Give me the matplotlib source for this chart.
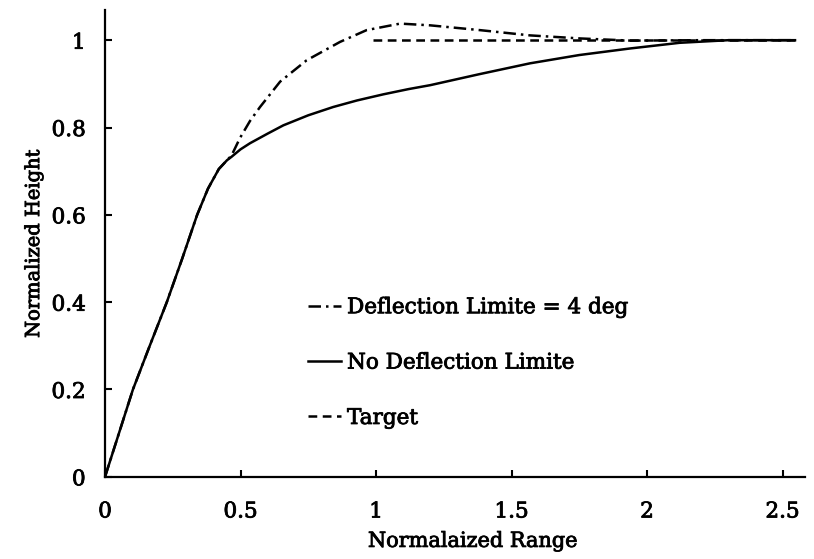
import matplotlib
matplotlib.use("Agg")
import matplotlib.pyplot as plt
import matplotlib.patheffects as pe

# Data
x_nolimit = [0.0, 0.05, 0.103, 0.165, 0.228, 0.285, 0.34, 0.38, 0.42, 0.45, 0.467, 0.5, 0.535, 0.6, 0.658, 0.75, 0.842, 0.93,
             1.027, 1.12, 1.2, 1.38, 1.568, 1.75, 1.937, 2.12, 2.3, 2.546]
y_nolimit = [0.0, 0.097, 0.2, 0.3, 0.4, 0.5, 0.6, 0.66, 0.705, 0.725, 0.733, 0.75, 0.764, 0.786, 0.805, 0.828, 0.847, 0.862,
             0.876, 0.888, 0.897, 0.922, 0.947, 0.966, 0.981, 0.994, 1.0, 1.0]

x_limit = [0.0, 0.05, 0.103, 0.165, 0.228, 0.285, 0.34, 0.38, 0.42, 0.45, 0.467, 0.498, 0.535, 0.572, 0.646, 0.744,
           0.867, 0.965, 1.089, 1.2, 1.384, 1.568, 1.753, 1.94, 2.2, 2.546]
y_limit = [0.0, 0.097, 0.2, 0.3, 0.4, 0.5, 0.6, 0.66, 0.705, 0.725, 0.736, 0.776, 0.815, 0.847, 0.905, 0.954,
           0.996, 1.023, 1.038, 1.034, 1.023, 1.011, 1.004, 0.999, 1.0, 1.0]

x_target = [0.99, 2.546]
y_target = [1.0, 1.0]

labels = ["Deflection Limite = 4 deg", "No Deflection Limite", "Target"]
xticks = [0, 0.5, 1, 1.5, 2, 2.5]
xticklabels = ["0", "0.5", "1", "1.5", "2", "2.5"]
yticks = [0, 0.2, 0.4, 0.6, 0.8, 1.0]
yticklabels = ["0", "0.2", "0.4", "0.6", "0.8", "1"]

plt.rcParams['font.family'] = ['DejaVu Serif']

fig = plt.figure(figsize=(8.14, 5.59), dpi=100)
ax = fig.add_axes([0.129, 0.147, 0.86, 0.835])

lw = 1.8
ax.plot(x_limit, y_limit, color='black', lw=lw, dashes=(5, 2, 1, 2), label=labels[0])
ax.plot(x_nolimit, y_nolimit, color='black', lw=lw, label=labels[1])
ax.plot(x_target, y_target, color='black', lw=lw, dashes=(3.5, 2.2), label=labels[2])

ax.set_xlim(0, 2.583)
ax.set_ylim(0, 1.069)
ax.set_xticks(xticks)
ax.set_xticklabels(xticklabels)
ax.set_yticks(yticks)
ax.set_yticklabels(yticklabels)

for s in ['top', 'right']:
    ax.spines[s].set_visible(False)
for s in ['left', 'bottom']:
    ax.spines[s].set_linewidth(1.6)

ax.tick_params(axis='both', direction='in', length=5, width=1.5, labelsize=15.5)
ax.tick_params(axis='y', pad=14)
ax.tick_params(axis='x', pad=17)

stroke = [pe.withStroke(linewidth=0.6, foreground='black')]

xl = ax.set_xlabel("Normalaized Range", fontsize=15)
ax.xaxis.set_label_coords(0.5255, -0.118)
yl = ax.set_ylabel("Normalized Height", fontsize=14, labelpad=6)

leg = ax.legend(loc='upper left', bbox_to_anchor=(0.275, 0.41), frameon=False,
                fontsize=15.5, handlelength=1.5, handletextpad=0.3, labelspacing=1.55,
                borderpad=0)

texts = list(leg.get_texts()) + [xl, yl] + ax.get_xticklabels() + ax.get_yticklabels()
for t in texts:
    t.set_path_effects(stroke)

fig.savefig("out.png", dpi=100)
